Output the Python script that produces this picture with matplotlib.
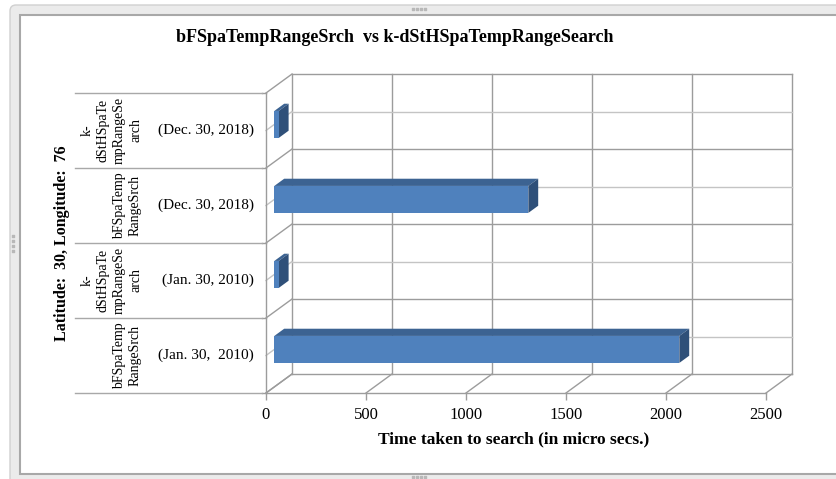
import numpy as np
import matplotlib
matplotlib.use("Agg")
import matplotlib.pyplot as plt
from matplotlib.patches import Polygon, FancyBboxPatch, Rectangle

plt.rcParams['font.family'] = ['Liberation Serif', 'DejaVu Serif']

TITLE = "bFSpaTempRangeSrch  vs k-dStHSpaTempRangeSearch"
XLABEL = "Time taken to search (in micro secs.)"
YLABEL = "Latitude:  30, Longitude:  76"
# categories, bottom to top
METHODS = ["bFSpaTemp\nRangeSrch", "k-\ndStHSpaTe\nmpRangeSe\narch",
           "bFSpaTemp\nRangeSrch", "k-\ndStHSpaTe\nmpRangeSe\narch"]
DATES = ["(Jan. 30,  2010)", "(Jan. 30, 2010)", "(Dec. 30, 2018)", "(Dec. 30, 2018)"]
TIMES = [2025, 22, 1270, 22]
XTICKS = [0, 500, 1000, 1500, 2000, 2500]

# fake 3d: depth shift in data units
DX = 130
DY = 0.253
Z0, Z1 = 0.32, 0.70
HALF = 0.18


def P(x, y, z):
    return (x + z * DX, y + z * DY)


fig = plt.figure(figsize=(8.37, 4.79), dpi=100)

# background frame, in pixels
bg = fig.add_axes([0, 0, 1, 1], zorder=-1)
bg.set_xlim(0, 837)
bg.set_ylim(479, 0)
bg.axis("off")
bg.add_patch(FancyBboxPatch((10, 5), 900, 490, boxstyle="round,pad=0,rounding_size=6",
                            fc="#ebebeb", ec="#d0d0d0", lw=1))
bg.add_patch(Rectangle((20, 15), 900, 459, fc="white", ec="#a8a8a8", lw=1.5))
bg.scatter([413, 417, 421, 425], [9] * 4, s=2, c="#b8b8b8", marker="s")
bg.scatter([413, 417, 421, 425], [477] * 4, s=2, c="#b8b8b8", marker="s")
bg.scatter([13] * 4, [236, 241, 246, 251], s=2, c="#b8b8b8", marker="s")

ax = fig.add_axes([266 / 837, 86 / 479, 500 / 837, 300 / 479])
ax.set_xlim(0, 2500)
ax.set_ylim(0, 4)
ax.set_facecolor("none")
for s in ax.spines.values():
    s.set_visible(False)

gc = "#9c9c9c"
lc = "#c4c4c4"
kw = dict(lw=1, clip_on=False, zorder=1)

# back wall and floor
for x in XTICKS:
    ax.plot([x + DX] * 2, [DY, 4 + DY], color=gc, **kw)
    ax.plot([x, x + DX], [0, DY], color=gc, **kw)
for y in np.arange(0, 4.01, 0.5):
    c = gc if y % 1 == 0 else lc
    ax.plot([DX, 2500 + DX], [y + DY] * 2, color=c, **kw)
    ax.plot([0, DX], [y, y + DY], color=c, **kw)
ax.plot([0, 0], [0, 4], color=gc, **kw)
ax.plot([0, 2500], [0, 0], color=gc, **kw)

# category table on the left
for y in range(5):
    ax.plot([-20, 0], [y, y], color=gc, **kw)
    ax.plot([-955, -20], [y, y], color="#a8a8a8", **kw)

# bars
ypos = np.arange(4) + 0.5
ax.barh(ypos + Z0 * DY, TIMES, height=2 * HALF, left=Z0 * DX,
        color="#4f81bd", zorder=3)
for y, v in zip(ypos, TIMES):
    top = [P(0, y + HALF, Z0), P(v, y + HALF, Z0), P(v, y + HALF, Z1), P(0, y + HALF, Z1)]
    side = [P(v, y - HALF, Z0), P(v, y + HALF, Z0), P(v, y + HALF, Z1), P(v, y - HALF, Z1)]
    ax.add_patch(Polygon(top, closed=True, fc="#3c6392", ec="none", zorder=2))
    ax.add_patch(Polygon(side, closed=True, fc="#2f5079", ec="none", zorder=2))

ax.set_xticks(XTICKS)
ax.set_yticks([])
ax.tick_params(axis="x", length=5, width=1, color=gc, pad=5, labelsize=12)

for y, m, d in zip(ypos, METHODS, DATES):
    ax.text(-60, y, d, ha="right", va="center", fontsize=11)
    ax.text(-620, y, m, ha="right", va="center", rotation=90,
            multialignment="center", linespacing=1.3, fontsize=10)

ax.text(-1020, 2, YLABEL, rotation=90, ha="center", va="center",
        fontsize=11.5, fontweight="bold")
fig.text(395 / 837, 1 - 37 / 479, TITLE, ha="center", va="center",
         fontsize=13, fontweight="bold")
fig.text(514 / 837, 1 - 439 / 479, XLABEL, ha="center", va="center",
         fontsize=12.5, fontweight="bold")

fig.savefig("out.png", dpi=100)
